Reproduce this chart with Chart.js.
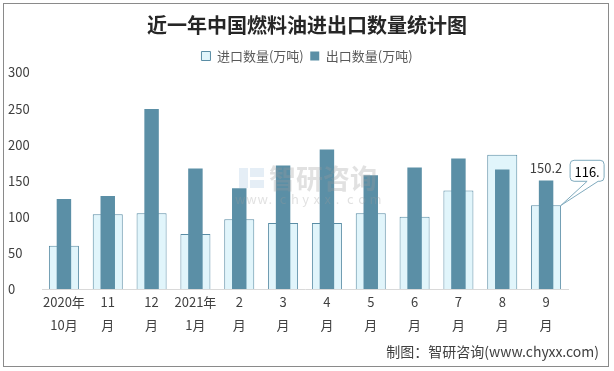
<!DOCTYPE html>
<html>
<head>
<meta charset="utf-8">
<script src="https://cdn.jsdelivr.net/npm/chart.js@4.4.1/dist/chart.umd.min.js"></script>
<style>
  html, body { margin: 0; padding: 0; background: #fff; }
  #wrap { width: 614px; height: 371px; position: relative; }
</style>
</head>
<body>
<div id="wrap"><canvas id="chart" width="614" height="371"></canvas></div>
<script>
// 数据
const categories = [
  ['2020年', '10月'], ['11', '月'], ['12', '月'], ['2021年', '1月'],
  ['2', '月'], ['3', '月'], ['4', '月'], ['5', '月'],
  ['6', '月'], ['7', '月'], ['8', '月'], ['9', '月']
];
const importValues = [60, 103.7, 105, 76.3, 96.8, 91.3, 91.3, 105, 100, 136.5, 186, 116];
const exportValues = [124.7, 128.8, 249.3, 167.1, 139.7, 171.2, 193.2, 157.5, 168.5, 180.8, 165.7, 150.2];
const yTicks = [0, 50, 100, 150, 200, 250, 300];
const exportLabel = '150.2';
const importLabel = '116.';

const fontFamily = '"Noto Sans CJK SC", "Microsoft YaHei", sans-serif';

// 额外绘制：边框、水印、数据标签、来源
const extras = {
  id: 'extras',
  afterDraw(chart) {
    const ctx = chart.ctx;
    ctx.save();

    // 外框
    ctx.strokeStyle = '#8a8a8a';
    ctx.lineWidth = 1;
    ctx.strokeRect(3.5, 3.5, 605, 363);

    // 水印
    const area = chart.chartArea;
    const cx = (area.left + area.right) / 2;
    ctx.globalAlpha = 0.3;
    ctx.fillStyle = '#a8c6e0';
    ctx.fillRect(cx - 66, 168, 9, 20);
    ctx.fillRect(cx - 55, 168, 14, 9);
    ctx.fillRect(cx - 55, 180, 14, 8);
    ctx.fillStyle = '#9a9a9a';
    ctx.font = 'bold 27px ' + fontFamily;
    ctx.textAlign = 'left';
    ctx.textBaseline = 'middle';
    ctx.fillText('智研咨询', cx - 36, 179);
    ctx.font = '13px ' + fontFamily;
    const wm = 'www.chyxx.com'.split('');
    wm.forEach((c, i) => ctx.fillText(c, cx - 70 + i * 11.2, 199));
    ctx.globalAlpha = 1;

    // 数据标签
    const exMeta = chart.getDatasetMeta(1);
    const imMeta = chart.getDatasetMeta(0);
    const last = categories.length - 1;
    const exBar = exMeta.data[last];
    ctx.fillStyle = '#404040';
    ctx.font = '13px ' + fontFamily;
    ctx.textAlign = 'center';
    ctx.textBaseline = 'middle';
    ctx.fillText(exportLabel, exBar.x, exBar.y - 13);

    // 进口标注框
    const imBar = imMeta.data[last];
    const tipX = imBar.x + imBar.width / 2;
    const tipY = imBar.y;
    const bx = tipX + 9, by = tipY - 45, bw = 34, bh = 21, r = 4;
    ctx.beginPath();
    ctx.moveTo(bx + r, by);
    ctx.lineTo(bx + bw - r, by);
    ctx.quadraticCurveTo(bx + bw, by, bx + bw, by + r);
    ctx.lineTo(bx + bw, by + bh - r);
    ctx.quadraticCurveTo(bx + bw, by + bh, bx + bw - r, by + bh);
    ctx.lineTo(bx + 28, by + bh);
    ctx.lineTo(tipX, tipY);
    ctx.lineTo(bx + 17, by + bh);
    ctx.lineTo(bx + r, by + bh);
    ctx.quadraticCurveTo(bx, by + bh, bx, by + bh - r);
    ctx.lineTo(bx, by + r);
    ctx.quadraticCurveTo(bx, by, bx + r, by);
    ctx.closePath();
    ctx.fillStyle = '#ffffff';
    ctx.fill();
    ctx.strokeStyle = '#7faabd';
    ctx.stroke();
    ctx.fillStyle = '#000000';
    ctx.fillText(importLabel, bx + bw / 2, by + bh / 2 + 1);

    // 来源
    ctx.fillStyle = '#404040';
    ctx.font = '14px ' + fontFamily;
    ctx.textAlign = 'right';
    ctx.fillText('制图：智研咨询(www.chyxx.com)', 599, 352);
    ctx.restore();
  }
};

new Chart(document.getElementById('chart'), {
  type: 'bar',
  data: {
    labels: categories,
    datasets: [
      {
        label: '进口数量(万吨)',
        data: importValues,
        backgroundColor: '#e1f5fb',
        borderColor: '#5a8da5',
        borderWidth: 1,
        barPercentage: 0.685,
        categoryPercentage: 1,
        grouped: false,
        order: 2
      },
      {
        label: '出口数量(万吨)',
        data: exportValues,
        backgroundColor: '#5b8fa6',
        borderColor: '#5b8fa6',
        borderWidth: 0,
        barPercentage: 0.33,
        categoryPercentage: 1,
        grouped: false,
        order: 1
      }
    ]
  },
  options: {
    responsive: false,
    devicePixelRatio: 1,
    animation: false,
    layout: { padding: { left: 8, right: 8, top: 0, bottom: 0 } },
    plugins: {
      title: {
        display: true,
        text: '近一年中国燃料油进出口数量统计图',
        color: '#262626',
        font: { family: fontFamily, size: 20, weight: 'bold' },
        padding: { top: 13, bottom: 6 }
      },
      legend: {
        display: true,
        labels: {
          color: '#595959',
          font: { family: fontFamily, size: 13 },
          boxWidth: 9,
          boxHeight: 9,
          padding: 6.5,
          sort: (a, b) => a.datasetIndex - b.datasetIndex
        }
      },
      tooltip: { enabled: false }
    },
    scales: {
      x: {
        grid: { display: false },
        border: { display: true, color: '#d9d9d9', width: 1 },
        ticks: {
          color: '#404040',
          font: { family: fontFamily, size: 13, lineHeight: 1.77 },
          padding: -6,
          maxRotation: 0,
          autoSkip: false
        },
        afterFit: (axis) => { axis.height = 82; }
      },
      y: {
        min: 0,
        max: 300,
        grid: { display: false },
        border: { display: false },
        ticks: {
          stepSize: 50,
          color: '#404040',
          font: { family: fontFamily, size: 13 },
          crossAlign: 'far',
          callback: (v) => yTicks.includes(v) ? String(v) : ''
        },
        afterFit: (axis) => { axis.width = 34; }
      },
      y2: {
        position: 'right',
        display: true,
        grid: { display: false },
        border: { display: false },
        ticks: { display: false },
        afterFit: (axis) => { axis.width = 38; }
      }
    }
  },
  plugins: [extras]
});
</script>
</body>
</html>
